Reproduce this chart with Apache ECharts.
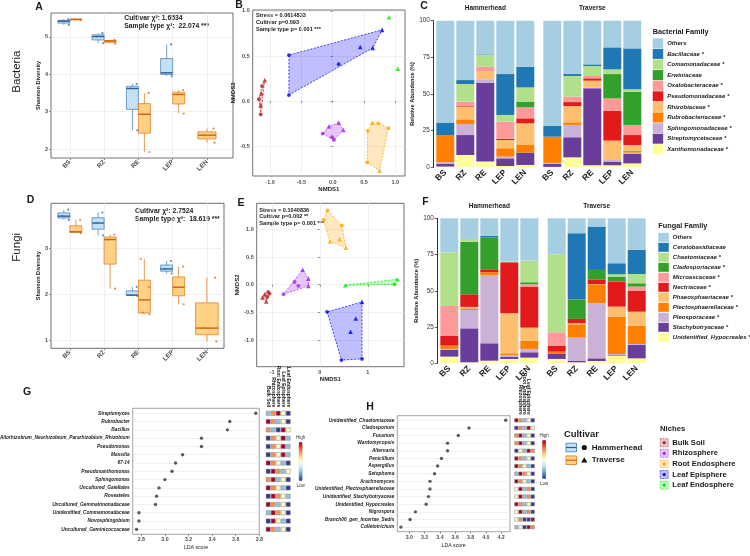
<!DOCTYPE html>
<html>
<head>
<meta charset="utf-8">
<title>Bacterial and fungal diversity</title>
<script src="https://cdn.jsdelivr.net/npm/echarts@6.0.0/dist/echarts.min.js"></script>
<style>
  html, body { margin: 0; padding: 0; background: #fff; }
  #chart { width: 750px; height: 556px; }
</style>
</head>
<body>
<div id="chart"></div>
<script>
const FONT = '"Liberation Sans", Arial, sans-serif';

// niches and cultivars
const niches = ['BS', 'RZ', 'RE', 'LEP', 'LEN'];
const cultivars = ['Hammerhead', 'Traverse'];
const nicheNames = ['Bulk Soil', 'Rhizosphere', 'Root Endosphere', 'Leaf Episphere', 'Leaf Endosphere'];
const nicheColors = ['#b22222', '#a020f0', '#ffa500', '#0000ff', '#00ee00'];

// Shannon diversity samples per niche (BS, RZ, RE, LEP, LEN)
const bacShannonHammer = [[5.32, 5.42, 5.47], [4.83, 5.01, 5.10], [2.50, 3.62, 3.74], [3.95, 4.04, 4.80], []];
const bacShannonTraverse = [[5.45, 5.47, 5.47], [4.82, 4.89, 4.92], [1.92, 2.93, 3.50], [2.95, 3.46, 3.58], [2.17, 2.37, 2.55]];
const fungShannonHammer = [[3.62, 3.70, 3.84], [3.28, 3.55, 3.78], [1.96, 1.98, 2.16], [2.45, 2.55, 2.72], []];
const fungShannonTraverse = [[3.33, 3.36, 3.62], [2.12, 3.19, 3.30], [1.56, 1.60, 2.15, 2.77], [1.78, 2.15, 2.60], [0.97, 1.26, 2.36]];
const bacChiText = ['Cultivar χ²: 1.6534', 'Sample type χ²:  22.074 ***'];
const fungChiText = ['Cultivar χ²: 2.7524', 'Sample type χ²:  18.619 ***'];

// NMDS scores per niche: [NMDS1, NMDS2, cultivar (0 Hammerhead, 1 Traverse)]
const bacNmds = [
  [[-1.085, 0.233, 1], [-1.13, 0.167, 0], [-1.14, 0.085, 1], [-1.18, 0.022, 0], [-1.15, -0.044, 1], [-1.15, -0.148, 0]],
  [[-0.16, -0.36, 0], [-0.06, -0.28, 1], [0.096, -0.24, 1], [0.17, -0.32, 1], [0.02, -0.43, 0], [-0.01, -0.40, 0]],
  [[0.63, -0.24, 1], [0.73, -0.24, 1], [0.89, -0.30, 0], [0.56, -0.33, 0], [0.55, -0.68, 0], [0.75, -0.77, 1]],
  [[-0.70, 0.51, 0], [-0.70, 0.067, 0], [0.096, 0.41, 0], [0.44, 0.60, 1], [0.64, 0.59, 1], [0.79, 0.79, 1]],
  [[0.90, 0.93, 1], [1.04, 0.36, 1]]
];
const fungNmds = [
  [[-1.08, -0.13, 0], [-1.15, -0.17, 1], [-1.05, -0.16, 0], [-1.20, -0.23, 1], [-1.12, -0.30, 1], [-1.10, -0.22, 0]],
  [[-0.36, 0.27, 1], [-0.53, 0.05, 0], [-0.45, -0.02, 0], [-0.24, 0.11, 1], [-0.24, -0.02, 1], [-0.76, -0.17, 0]],
  [[0.16, 1.34, 0], [0.077, 1.17, 0], [0.46, 1.07, 0], [0.41, 0.82, 1], [0.21, 0.78, 1], [0.545, 0.67, 1]],
  [[0.15, -0.49, 0], [0.88, -0.31, 1], [0.75, -0.61, 1], [0.64, -0.85, 1], [0.45, -1.36, 0], [0.88, -1.34, 0]],
  [[0.53, -0.01, 1], [1.56, 0.006, 0], [1.62, 0.10, 1]]
];
const bacNmdsText = ['Stress = 0.0614833', 'Cultivar p=0.093', 'Sample type p= 0.001 ***'];
const fungNmdsText = ['Stress = 0.1040836', 'Cultivar p=0.002 **', 'Sample type p= 0.001 ***'];

// relative abundance (%), rows follow the family list, columns follow niches
const paired = ['#a6cee3', '#1f78b4', '#b2df8a', '#33a02c', '#fb9a99', '#e31a1c', '#fdbf6f', '#ff7f00', '#cab2d6', '#6a3d9a', '#ffff99'];
const bacFamilies = ['Others', 'Bacillaceae', 'Comamonadaceae', 'Erwiniaceae', 'Oxalobacteraceae', 'Pseudomonadaceae',
  'Rhizobiaceae', 'Rubrobacteriaceae', 'Sphingomonadaceae', 'Streptomycetaceae', 'Xanthomonadaceae'];
const bacStarred = [false, true, true, false, true, true, true, true, true, true, true];
const bacHammerAbund = [
  [69.5, 40.5, 23, 36.4, 31.4], [8.5, 2.7, 0.4, 27.9, 14.1], [0, 12, 8, 4.6, 9.7], [0, 0, 0, 0, 3.9],
  [0, 3, 3.4, 11.6, 7.5], [0, 0.4, 0, 0.9, 3.4], [0, 8.7, 5.2, 5.6, 14.8], [18.5, 3.2, 0, 5.7, 5.2],
  [1, 7.5, 2.3, 1.2, 0], [2, 13.6, 53.8, 5.2, 8.4], [0.5, 8.4, 3.9, 0.9, 1.6]
];
const bacTraverseAbund = [
  [71.8, 36.4, 29.8, 18.2, 18.9], [7.3, 1.3, 1.1, 15, 27.9], [0, 14.1, 6.8, 3.2, 1.6], [0, 0, 0, 16.6, 22.7],
  [0, 3.7, 1.6, 8.4, 6.9], [0, 2.7, 1.6, 20.4, 6.8], [0, 11.1, 4.8, 13.2, 3.8], [17.9, 1.8, 0, 0, 1.4],
  [0.7, 8.4, 0.4, 1.1, 0.9], [2, 13.7, 52.5, 2.5, 6.4], [0.3, 6.8, 1.4, 1.4, 2.7]
];
const fungFamilies = ['Others', 'Ceratobasidiaceae', 'Chaetomiaceae', 'Cladosporiaceae', 'Microascaceae', 'Nectriaceae',
  'Phaeosphaeriaceae', 'Plectosphaerellaceae', 'Pleosporaceae', 'Stachybotryaceae', 'Unidentified_Hypocreales'];
const fungStarred = [false, false, true, true, true, true, true, true, true, true, true];
const fungHammerAbund = [
  [23.4, 14.3, 12, 29.9, 29.2], [0, 0, 1.3, 0, 0], [37.1, 1.8, 0, 0.4, 14.9], [0, 36.3, 22.3, 0, 1.4],
  [20.6, 0, 0, 0, 1.6], [6.7, 8.7, 1.6, 35.2, 28.3], [0, 1.0, 0, 27.6, 9.2], [2.3, 1.1, 1.9, 1.2, 5.5],
  [0.7, 12.7, 47.1, 1.1, 2.3], [4.6, 23.4, 12, 1.6, 3.7], [4.6, 0.7, 1.8, 3, 3.9]
];
const fungTraverseAbund = [
  [24.8, 10.3, 5.7, 31, 21.8], [0, 45.6, 29.9, 7.6, 16.6], [53.8, 0, 0, 1.6, 6.4], [0, 13.5, 6.5, 3.5, 2.3],
  [9.2, 0, 0, 0, 2.8], [4.2, 3, 3.4, 17.2, 14.5], [0, 0.7, 0.5, 6.9, 9.6], [1.6, 9.2, 12.6, 25.8, 12.7],
  [0, 16.1, 38, 0.7, 0.7], [3.4, 0.9, 1.8, 0.4, 9.2], [3, 0.7, 1.6, 5.3, 3.4]
];

// LEfSe LDA scores and niche z-scores (Bulk Soil, Rhizosphere, Root Endo, Leaf Epi, Leaf Endo)
const bacGenera = ['Streptomyces', 'Rubrobacter', 'Bacillus', 'Allorhizobium_Neorhizobium_Pararhizobium_Rhizobium',
  'Pseudomonas', 'Massilia', '67-14', 'Pseudoxanthomonas', 'Sphingomonas', 'Uncultured_Gaiellales', 'Roseateles',
  'Uncultured_Gemmatimonadaceae', 'Unidentified_Commamonadaceae', 'Novosphingobium', 'Uncultured_Geminicoccaceae'];
const bacLda = [3.77, 3.55, 3.53, 3.31, 3.31, 3.15, 3.09, 3.06, 3.0, 2.95, 2.93, 2.92, 2.78, 2.78, 2.76];
const bacLdaTicks = [2.8, 3.0, 3.2, 3.4, 3.6, 3.8];
const bacLdaHeat = [
  [-0.8, 0.8, 1.6, 0, -1.6], [1.6, 0.8, -0.8, 0, -1.6], [0.8, -0.8, -1.6, 1.6, 0], [-1.6, 0.8, 0, 1.6, -0.8],
  [-1.6, 0.8, 0, 1.6, -0.8], [-1.6, 0.8, 0, 1.6, -0.8], [1.6, 0.8, 0, -0.8, -1.6], [-1.6, 1.6, 0.8, -0.8, 0],
  [0.8, 1.6, -0.8, 0, -1.6], [1.6, 0.8, 0, -0.8, -1.6], [-1.6, 1.6, 0.8, 0, -0.8], [1.6, 0.8, -0.8, 0, -1.6],
  [-0.8, 1.6, 0.8, 0, -1.6], [-1.6, 1.6, 0, -0.8, -1.6], [1.6, 0.8, -0.8, 0, -1.6]
];
const fungGenera = ['Unidentified_Chaetomiaceae', 'Cladosporium', 'Fusarium', 'Wardomycopsis', 'Alternaria', 'Penicillium',
  'Aspergillus', 'Setophoma', 'Arachnomyces', 'Unidentified_Plectosphaerellaceae', 'Unidentified_Stachybotryaceae',
  'Unidentified_Hypocreales', 'Nigrospora', 'Branch06_gen_Incertae_Sedis', 'Colletotrichum'];
const fungLda = [4.26, 3.78, 3.64, 3.50, 3.50, 3.42, 3.37, 3.33, 3.27, 3.27, 3.25, 3.22, 3.08, 3.01, 2.89];
const fungLdaTicks = [3.0, 3.2, 3.4, 3.6, 3.8, 4.0, 4.2];
const fungLdaHeat = [
  [1.6, 0.8, -0.8, 0, -1.6], [-1.6, 0.8, -0.8, 1.6, 0], [0.8, 1.6, -0.8, 0, -1.6], [0.8, 1.6, -0.8, 0, -1.6],
  [-1.6, 0, -0.8, 1.6, 0.8], [1.6, 0.8, -0.8, 0, -1.6], [1.6, 0.8, 0, -0.8, -1.6], [-0.8, 1.6, 0.8, 0, -1.6],
  [1.6, 0.8, 0, -0.8, -1.6], [0, 1.6, -0.8, 0.8, -1.6], [0, 1.6, -0.8, 0.8, -1.6], [1.6, 0.8, -0.8, 0, -1.6],
  [0, 1.6, -0.8, 0.8, -1.6], [0, 0.8, -1.6, -1.6, 1.6], [-0.8, 0, -1.6, 1.6, 0.8]
];
const rdylbu = ['#313695', '#4575b4', '#74add1', '#abd9e9', '#e0f3f8', '#ffffbf', '#fee090', '#fdae61', '#f46d43', '#d73027', '#a50026'];

const boxBlue = { fill: '#c4e2f5', stroke: '#4f87b8', median: '#2d5f8f', point: '#3b73a8' };
const boxOrange = { fill: '#fed184', stroke: '#e5822a', median: '#c7651a', point: '#d9701c' };

const option = {
  animation: false,
  textStyle: { fontFamily: FONT },
  grid: [], xAxis: [], yAxis: [], series: [], legend: [], visualMap: [], graphic: []
};
const frame = { show: true, borderColor: '#4d4d4d', borderWidth: 0.8, backgroundColor: 'rgba(0,0,0,0)' };

function addGrid(box, xa, ya) {
  const gi = option.grid.length;
  option.grid.push(Object.assign({ containLabel: false, outerBoundsMode: 'none' }, box));
  xa.gridIndex = gi; ya.gridIndex = gi;
  option.xAxis.push(xa); option.yAxis.push(ya);
  return gi;
}

function vAxis(min, max, ticks, fmt, ext) {
  ext = ext || {};
  return {
    type: 'value', min: min, max: max, inverse: !!ext.inverse,
    name: ext.name || '', nameLocation: 'middle', nameGap: ext.nameGap || 10,
    nameTextStyle: { fontSize: ext.nameSize || 5.6, fontWeight: ext.nameWeight || 'bold', color: '#1a1a1a', fontFamily: FONT },
    axisLine: { show: false },
    axisTick: { show: ext.ticks !== false, customValues: ticks, length: 2, lineStyle: { color: '#4d4d4d', width: 0.6 } },
    axisLabel: {
      customValues: ticks, formatter: fmt, fontSize: ext.labelSize || 5.5, fontWeight: 'bold',
      fontStyle: ext.italic ? 'italic' : 'normal', color: ext.labelColor || '#4d4d4d',
      margin: ext.margin || 3, rotate: ext.rotate || 0, fontFamily: FONT
    },
    splitLine: { show: ext.split !== false, lineStyle: { color: '#e6e6e6', width: 0.6 } }
  };
}

function quant(s, p) {
  const a = s.slice().sort((x, y) => x - y);
  const h = (a.length - 1) * p, lo = Math.floor(h);
  return a[lo] + (a[Math.min(lo + 1, a.length - 1)] - a[lo]) * (h - lo);
}

function boxRenderer(col) {
  return function (params, api) {
    const xc = api.value(0), w = api.value(6);
    const lo = api.coord([xc, api.value(1)]), q1 = api.coord([xc, api.value(2)]);
    const md = api.coord([xc, api.value(3)]), q3 = api.coord([xc, api.value(4)]), hi = api.coord([xc, api.value(5)]);
    const xl = api.coord([xc - w / 2, api.value(3)])[0], xr = api.coord([xc + w / 2, api.value(3)])[0];
    const line = (x1, y1, x2, y2, c, lw) => ({ type: 'line', shape: { x1, y1, x2, y2 }, style: { stroke: c, lineWidth: lw } });
    return {
      type: 'group', children: [
        line(lo[0], lo[1], q1[0], q1[1], col.stroke, 0.8),
        line(q3[0], q3[1], hi[0], hi[1], col.stroke, 0.8),
        { type: 'rect', shape: { x: xl, y: q3[1], width: xr - xl, height: Math.max(q1[1] - q3[1], 0.6) },
          style: { fill: col.fill, stroke: col.stroke, lineWidth: 0.8 } },
        line(xl, md[1], xr, md[1], col.median, 1.4)
      ]
    };
  };
}

const jitter = [0.42, -0.12, 0.36, -0.3];
function shannonPanel(box, ymin, ymax, yticks, xmax, hammer, traverse, singleW) {
  const gi = addGrid(Object.assign({}, box, frame),
    vAxis(0.45, xmax, [1, 2, 3, 4, 5], v => niches[Math.round(v) - 1], { rotate: 45, labelSize: 6.3, margin: 3 }),
    vAxis(ymin, ymax, yticks, v => String(v), { name: 'Shannon Diversity', nameGap: 8.5 }));
  [[hammer, traverse, -1, boxBlue], [traverse, hammer, 1, boxOrange]].forEach(([own, other, side, col]) => {
    const rows = [], pts = [];
    own.forEach((s, i) => {
      if (!s.length) return;
      const alone = !other[i].length;
      const w = alone ? singleW : 0.35;
      const xc = i + 1 + (alone ? 0 : side * 0.175);
      rows.push([xc, quant(s, 0), quant(s, 0.25), quant(s, 0.5), quant(s, 0.75), quant(s, 1), w]);
      s.forEach((v, j) => pts.push([xc + jitter[j] * w, v]));
    });
    option.series.push({ type: 'custom', xAxisIndex: gi, yAxisIndex: gi, data: rows, encode: { x: 0, y: [1, 5] },
      renderItem: boxRenderer(col), z: 2, silent: true });
    option.series.push({ type: 'scatter', xAxisIndex: gi, yAxisIndex: gi, data: pts, symbolSize: 2.2,
      itemStyle: { color: col.point }, z: 3, silent: true });
  });
}

function hull(pts) {
  const p = pts.map(q => [q[0], q[1]]).sort((a, b) => a[0] - b[0] || a[1] - b[1]);
  if (p.length < 3) return p;
  const cross = (o, a, b) => (a[0] - o[0]) * (b[1] - o[1]) - (a[1] - o[1]) * (b[0] - o[0]);
  const lo = [], up = [];
  p.forEach(q => { while (lo.length >= 2 && cross(lo[lo.length - 2], lo[lo.length - 1], q) <= 0) lo.pop(); lo.push(q); });
  p.slice().reverse().forEach(q => { while (up.length >= 2 && cross(up[up.length - 2], up[up.length - 1], q) <= 0) up.pop(); up.push(q); });
  return lo.slice(0, -1).concat(up.slice(0, -1));
}
function alpha(hex, a) {
  const n = parseInt(hex.slice(1), 16);
  return 'rgba(' + (n >> 16) + ',' + ((n >> 8) & 255) + ',' + (n & 255) + ',' + a + ')';
}

function nmdsPanel(box, xr, yr, xticks, yticks, xfmt, groups) {
  const gi = addGrid(Object.assign({}, box, frame),
    vAxis(xr[0], xr[1], xticks, xfmt, { name: 'NMDS1', nameGap: 9, nameSize: 6 }),
    vAxis(yr[0], yr[1], yticks, v => v.toFixed(1), { name: 'NMDS2', nameGap: 12, nameSize: 6 }));
  groups.forEach((pts, k) => {
    const h = hull(pts);
    if (h.length >= 3) {
      option.series.push({ type: 'custom', xAxisIndex: gi, yAxisIndex: gi, data: [h[0]], silent: true, z: 1,
        renderItem: (params, api) => ({ type: 'polygon', shape: { points: h.map(q => api.coord(q)) },
          style: { fill: alpha(nicheColors[k], 0.25), stroke: nicheColors[k], lineWidth: 0.7, lineDash: [2, 1.5] } }) });
    }
    option.series.push({ type: 'scatter', xAxisIndex: gi, yAxisIndex: gi, data: pts, silent: true, z: 3,
      symbol: v => v[2] ? 'triangle' : 'circle', symbolSize: v => v[2] ? 4.6 : 3.8,
      itemStyle: { color: nicheColors[k] } });
  });
}

function barPanel(box, abund, families, stack, showY, lbl) {
  const gi = addGrid(box,
    { type: 'category', data: niches, axisLine: { show: false }, axisTick: { show: false },
      axisLabel: { rotate: 45, interval: 0, fontSize: 8.5, fontWeight: 'bold', color: '#1a1a1a', margin: 4, fontFamily: FONT } },
    { type: 'value', min: 0, max: 100, interval: 25, offset: 2, show: showY,
      name: 'Relative Abundance (%)', nameLocation: 'middle', nameGap: 15.5,
      nameTextStyle: { fontSize: 5.6, fontWeight: 'bold', color: '#1a1a1a', fontFamily: FONT },
      axisLine: { show: true, lineStyle: { color: '#1a1a1a', width: 0.9 } },
      axisTick: { show: true, length: 2.5, lineStyle: { color: '#1a1a1a', width: 0.7 } },
      axisLabel: { fontSize: 6.4, color: '#333', margin: 3.5, fontFamily: FONT },
      splitLine: { show: false } });
  for (let f = families.length - 1; f >= 0; f--) {
    option.series.push({ type: 'bar', name: families[f], xAxisIndex: gi, yAxisIndex: gi, stack: stack,
      data: abund[f], barWidth: '90%', itemStyle: { color: paired[f] }, silent: true });
  }
  option.graphic.push(text(box.left + box.width / 2, box.top - 12.4, lbl, 6.5, { align: 'center', weight: 'bold' }));
}

function familyLegend(families, starred, left, top, itemH, gap) {
  option.legend.push({
    data: families.map(n => ({ name: n, icon: 'rect' })), orient: 'vertical', left: left, top: top,
    itemWidth: 10.5, itemHeight: itemH, itemGap: gap, padding: 0, selectedMode: false,
    formatter: n => starred[families.indexOf(n)] ? n + ' *' : n,
    textStyle: { fontSize: 6, fontWeight: 'bold', fontStyle: 'italic', color: '#1a1a1a', fontFamily: FONT, padding: [0, 0, 0, -1] }
  });
}

function ldaPanel(box, genera, scores, xr, ticks) {
  const n = genera.length;
  const gi = addGrid(Object.assign({}, box, { show: true, borderColor: '#8c8c8c', borderWidth: 0.8, backgroundColor: 'rgba(0,0,0,0)' }),
    vAxis(xr[0], xr[1], ticks, v => v.toFixed(1), { name: 'LDA score', nameGap: 11, nameWeight: 'normal', nameSize: 5.2, labelSize: 5.2, split: false }),
    vAxis(0.4, n + 0.6, genera.map((g, i) => i + 1), v => genera[Math.round(v) - 1],
      { inverse: true, italic: true, labelSize: 4.8, labelColor: '#1a1a1a', ticks: false, margin: 3 }));
  option.series.push({ type: 'scatter', xAxisIndex: gi, yAxisIndex: gi, data: scores.map((s, i) => [s, i + 1]),
    symbolSize: 3.4, itemStyle: { color: '#333' }, silent: true, z: 3 });
}

function heatPanel(box, heat, vmLeft, vmTop) {
  const n = heat.length;
  const gi = addGrid(box,
    { type: 'value', min: 0.5, max: 5.5, position: 'top', axisLine: { show: false }, axisTick: { show: false },
      axisLabel: { customValues: [1, 2, 3, 4, 5], formatter: v => nicheNames[Math.round(v) - 1], rotate: 90,
        fontSize: 5, fontWeight: 'bold', color: '#1a1a1a', margin: 1, fontFamily: FONT },
      splitLine: { show: false } },
    { type: 'value', min: 0.4, max: n + 0.6, inverse: true, show: false });
  const data = [];
  heat.forEach((row, r) => row.forEach((v, c) => data.push([c + 1, r + 1, v])));
  option.series.push({ type: 'custom', xAxisIndex: gi, yAxisIndex: gi, data: data, encode: { x: 0, y: 1 }, silent: true,
    renderItem: (params, api) => {
      const c = api.coord([api.value(0), api.value(1)]);
      const sz = api.size([1, 1]);
      const w = sz[0] * 0.84, h = Math.min(sz[1] * 0.64, w * 1.05);
      return { type: 'rect', shape: { x: c[0] - w / 2, y: c[1] - h / 2, width: w, height: h },
        style: { fill: api.visual('color'), stroke: '#8c8c8c', lineWidth: 0.5 } };
    } });
  option.visualMap.push({ type: 'continuous', seriesIndex: option.series.length - 1, dimension: 2, min: -1.6, max: 1.6,
    orient: 'vertical', left: vmLeft, top: vmTop, itemWidth: 4, itemHeight: 39, text: ['High', 'Low'], textGap: 2,
    textStyle: { fontSize: 4.5, color: '#333', fontFamily: FONT }, inRange: { color: rdylbu },
    calculable: false, hoverLink: false, padding: 0 });
}

function text(x, y, str, size, o) {
  o = o || {};
  return { type: 'text', x: x, y: y, rotation: o.rot || 0, silent: true,
    style: { text: str, fontSize: size, fontWeight: o.weight || 'normal', fontStyle: o.style || 'normal', fontFamily: FONT,
      fill: o.color || '#1a1a1a', textAlign: o.align || 'left', align: o.align || 'left',
      textVerticalAlign: 'middle', verticalAlign: 'middle' } };
}

// A / D : Shannon diversity
shannonPanel({ left: 51, top: 13, width: 182, height: 145 }, 1.76, 5.64, [2, 3, 4, 5], 5.76, bacShannonHammer, bacShannonTraverse, 0.53);
shannonPanel({ left: 51, top: 203.3, width: 173, height: 145 }, 0.82, 3.98, [1, 2, 3], 5.5, fungShannonHammer, fungShannonTraverse, 0.66);
// B / E : NMDS
nmdsPanel({ left: 252.7, top: 10, width: 152.3, height: 166 }, [-1.278, 1.155], [-0.83, 1.01],
  [-1, -0.5, 0, 0.5, 1], [-0.5, 0, 0.5, 1], v => v.toFixed(1), bacNmds);
nmdsPanel({ left: 256.7, top: 203.3, width: 147.3, height: 163.4 }, [-1.32, 1.757], [-1.48, 1.47],
  [-1, 0, 1], [-1, -0.5, 0, 0.5, 1], v => String(v), fungNmds);
// C / F : relative abundance
barPanel({ left: 435.3, top: 20.7, width: 100, height: 146.6 }, bacHammerAbund, bacFamilies, 'cH', true, cultivars[0]);
barPanel({ left: 542.3, top: 20.7, width: 100, height: 146.6 }, bacTraverseAbund, bacFamilies, 'cT', false, cultivars[1]);
barPanel({ left: 439.3, top: 218.3, width: 100, height: 145 }, fungHammerAbund, fungFamilies, 'fH', true, cultivars[0]);
barPanel({ left: 546.7, top: 218.3, width: 100, height: 145 }, fungTraverseAbund, fungFamilies, 'fT', false, cultivars[1]);
familyLegend(bacFamilies, bacStarred, 652.7, 38.3, 10, 0.6);
familyLegend(fungFamilies, fungStarred, 658.3, 232.8, 9, 1);
// G / H : LDA
ldaPanel({ left: 132.7, top: 408.3, width: 126.6, height: 126 }, bacGenera, bacLda, [2.727, 3.80], bacLdaTicks);
heatPanel({ left: 265.7, top: 408.3, width: 25, height: 126 }, bacLdaHeat, 296, 435);
ldaPanel({ left: 397.3, top: 415.7, width: 112.7, height: 116 }, fungGenera, fungLda, [2.843, 4.316], fungLdaTicks);
heatPanel({ left: 514.3, top: 415.7, width: 20.5, height: 116 }, fungLdaHeat, 539.5, 433);

// panel letters, row titles and statistics
[['A', 39, 7], ['B', 239, 5.5], ['C', 424, 6], ['D', 30.5, 200.5], ['E', 241, 203], ['F', 425.5, 202.5], ['G', 27, 392], ['H', 370, 406.7]]
  .forEach(l => option.graphic.push(text(l[1], l[2], l[0], 10.5, { weight: 'bold', align: 'center' })));
option.graphic.push(text(16.7, 71.7, 'Bacteria', 11.5, { rot: Math.PI / 2, align: 'center' }));
option.graphic.push(text(16.7, 247.3, 'Fungi', 11.5, { rot: Math.PI / 2, align: 'center' }));
bacChiText.forEach((t, i) => option.graphic.push(text(124.3, 18.3 + i * 7.7, t, 6.8, { weight: 'bold' })));
fungChiText.forEach((t, i) => option.graphic.push(text(135, 211 + i * 8.3, t, 6.8, { weight: 'bold' })));
bacNmdsText.forEach((t, i) => option.graphic.push(text(256, 15.7 + i * 6.8, t, 5.6, { weight: 'bold' })));
fungNmdsText.forEach((t, i) => option.graphic.push(text(259.3, 210 + i * 6.7, t, 5.6, { weight: 'bold' })));
option.graphic.push(text(652.7, 32.3, 'Bacterial Family', 7.3, { weight: 'bold' }));
option.graphic.push(text(658.3, 226, 'Fungal Family', 7.3, { weight: 'bold' }));

// cultivar legend
option.graphic.push(text(564, 434.3, 'Cultivar', 9.4, { weight: 'bold' }));
[boxBlue, boxOrange].forEach((col, i) => {
  const y = 447.5 + i * 12.7;
  option.graphic.push({ type: 'rect', shape: { x: 566, y: y - 4.3, width: 10.5, height: 8.6 }, style: { fill: col.fill, stroke: col.stroke, lineWidth: 0.9 }, silent: true });
  option.graphic.push({ type: 'line', shape: { x1: 566, y1: y, x2: 576.5, y2: y }, style: { stroke: col.median, lineWidth: 1.2 }, silent: true });
  if (i === 0) {
    option.graphic.push({ type: 'circle', shape: { cx: 584.3, cy: y, r: 2.6 }, style: { fill: '#111' }, silent: true });
  } else {
    option.graphic.push({ type: 'polygon', shape: { points: [[584.3, y - 3], [587.4, y + 2.4], [581.2, y + 2.4]] }, style: { fill: '#111' }, silent: true });
  }
  option.graphic.push(text(591.7, y, cultivars[i], 8, { weight: 'bold' }));
});
// niche legend
option.graphic.push(text(660, 429.3, 'Niches', 7.7, { weight: 'bold' }));
nicheNames.forEach((nm, i) => {
  const y = 442.7 + i * 10.6;
  option.graphic.push({ type: 'rect', shape: { x: 660.2, y: y - 4, width: 8, height: 8 },
    style: { fill: alpha(nicheColors[i], 0.25), stroke: nicheColors[i], lineWidth: 0.6, lineDash: [1.5, 1] }, silent: true });
  option.graphic.push({ type: 'circle', shape: { cx: 664.2, cy: y, r: 1.6 }, style: { fill: nicheColors[i] }, silent: true });
  option.graphic.push(text(672.3, y, nm, 7.6, { weight: 'bold' }));
});

const chart = echarts.init(document.getElementById('chart'), null, { renderer: 'canvas' });
chart.setOption(option);
</script>
</body>
</html>
